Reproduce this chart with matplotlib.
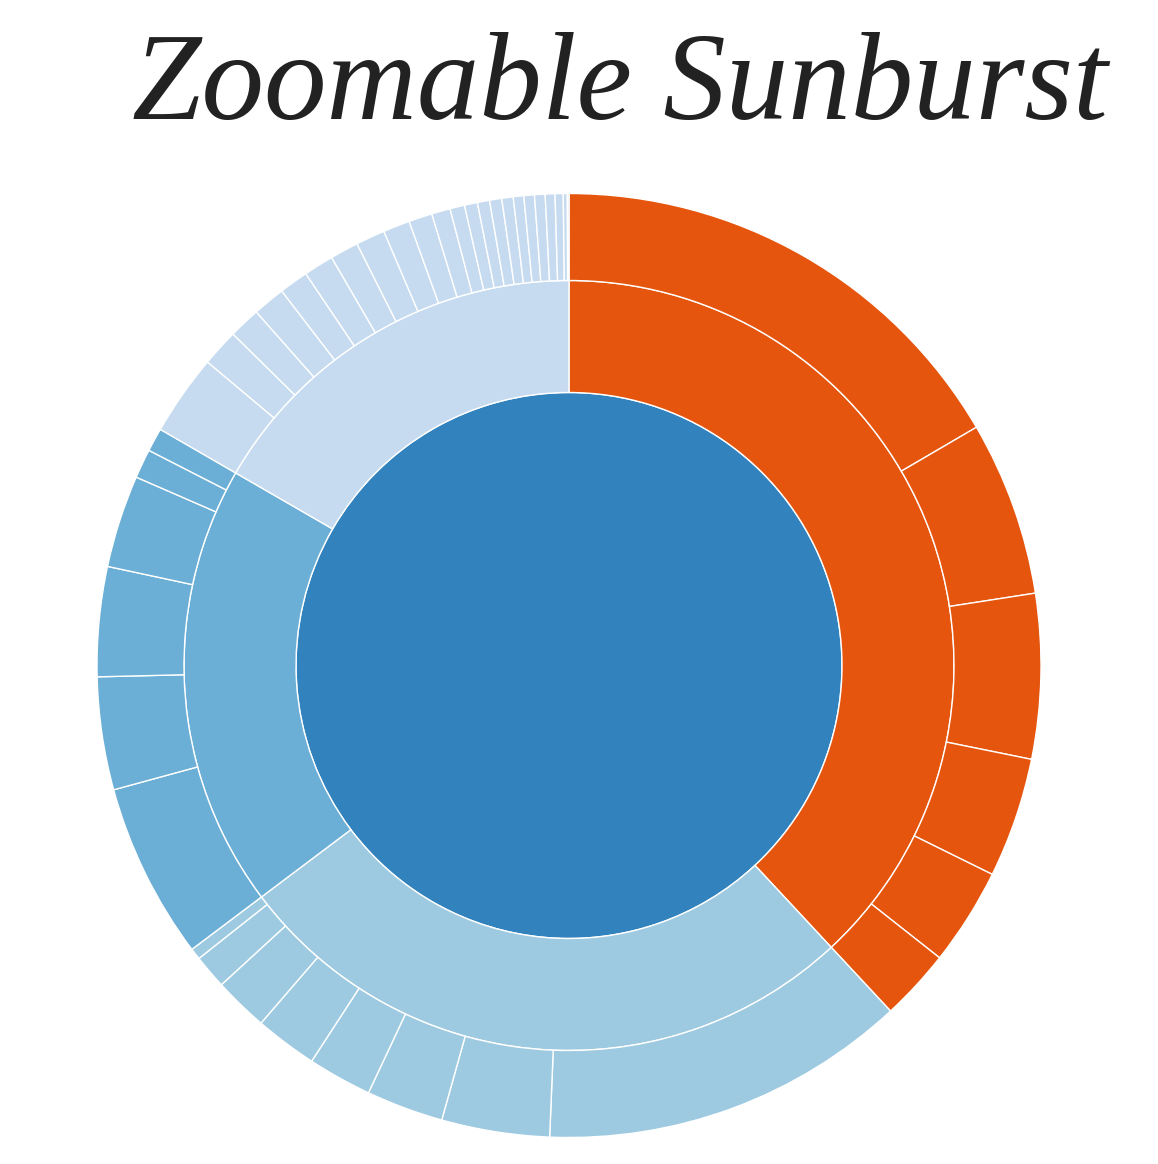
import matplotlib
matplotlib.use('Agg')
import matplotlib.pyplot as plt

# arc sizes of the leaves (degrees), clockwise from 12 o'clock
orange_leaves = [59.7, 21.5, 20.3, 14.8, 12.0, 8.8]
pale_leaves = [45.3, 13.3, 9.5, 7.9, 7.7, 6.7, 4.2, 1.4]
mid_leaves = [21.7, 13.9, 13.5, 11.4, 3.6, 2.9]
light_leaves = [10.0, 4.6, 3.9, 4.0, 3.6, 3.7, 3.5, 3.6, 3.3, 2.9, 2.3, 1.8,
                1.6, 1.5, 1.5, 1.4, 1.3, 1.3, 1.3, 1.2, 1.0, 0.5, 0.2]

groups = [orange_leaves, pale_leaves, mid_leaves, light_leaves]
group_colors = ['#e6550d', '#9ecae1', '#6baed6', '#c6dbef']
root_color = '#3182bd'

W, H = 1158, 1164
cx, cy = 569, H - 665.5
r_root, r_mid, r_out = 273, 385, 472

fig = plt.figure(figsize=(W / 100, H / 100), dpi=100)
ax = fig.add_axes([0, 0, 1, 1])

edge = dict(edgecolor='white', linewidth=1.0)

# root disc
ax.pie([1], colors=[root_color], radius=r_root, center=(cx, cy),
       startangle=90, counterclock=False, wedgeprops=edge)

# first level: each parent is the sum of its leaves
parent_vals = [sum(g) for g in groups]
ax.pie(parent_vals, colors=group_colors, radius=r_mid, center=(cx, cy),
       startangle=90, counterclock=False,
       wedgeprops=dict(width=r_mid - r_root, **edge))

# second level
leaf_vals, leaf_colors = [], []
for g, c in zip(groups, group_colors):
    leaf_vals += g
    leaf_colors += [c] * len(g)
ax.pie(leaf_vals, colors=leaf_colors, radius=r_out, center=(cx, cy),
       startangle=90, counterclock=False,
       wedgeprops=dict(width=r_out - r_mid, **edge))

ax.text(620, H - 119, 'Zoomable Sunburst', ha='center', va='baseline',
        fontsize=90, fontstyle='italic', family='Liberation Serif', color='#222222')

ax.set_xlim(0, W)
ax.set_ylim(0, H)
ax.set_aspect('equal')
ax.axis('off')

plt.savefig('out.png', dpi=100)
